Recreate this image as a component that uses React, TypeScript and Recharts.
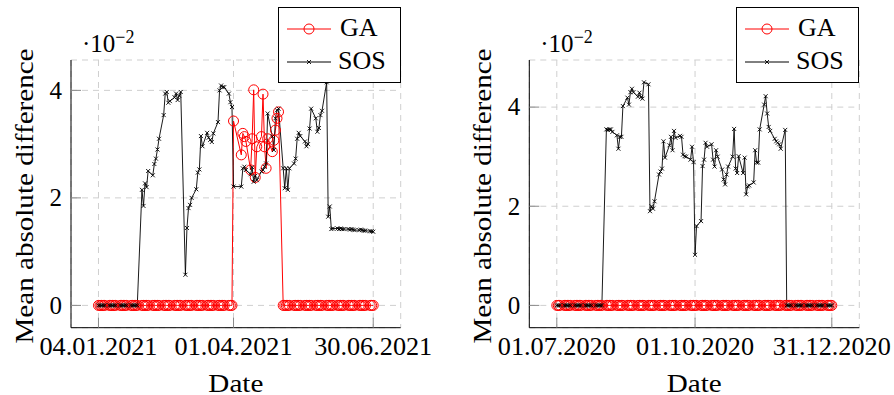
import React from 'react';
import { LineChart, Line, XAxis, YAxis, CartesianGrid, Legend, Label } from 'recharts';

const FONT = 'Liberation Serif';
const TS: React.CSSProperties = { fontFamily: "'Liberation Serif', 'Times New Roman', Times, serif" };

// ---------- calendars (business days) ----------
const leftStart = '04.01.2021';
const leftEnd = '30.06.2021';
const leftHolidays = ['02.04.2021', '05.04.2021'];
const leftTickLabels = ['04.01.2021', '01.04.2021', '30.06.2021'];

const rightStart = '01.07.2020';
const rightEnd = '31.12.2020';
const rightHolidays: string[] = [];
const rightTickLabels = ['01.07.2020', '01.10.2020', '31.12.2020'];

const yTicks = [0, 2, 4];

// ---------- series (values in units of 1e-2), one per business day ----------
const sosLeft = [
  0, 0, 0, 0, 0, 0, 0, 0, 0, 0, 0, 0, 0, 0, 0, 0, 0, 0, 0, 0,
  2.15, 1.85, 2.27, 2.2, 2.5,
  2.42, 2.63, 2.73, 2.9, 3.1,
  3.54, 3.94, 3.97, 3.77, 3.8,
  3.87, 3.94, 3.82, 3.9, 3.97,
  0.57, 1.44, 1.81, 1.87, 2.0,
  2.16, 2.47, 2.53, 3.15, 2.96,
  3.21, 3.12, 3.08, 3.04, 3.2,
  3.41, 4.0, 4.09, 4.06, 4.06,
  3.94, 3.78, 3.69, 2.21,
  2.21, 2.55, 2.58, 2.52,
  2.44, 2.57, 2.3, 2.41, 2.33,
  2.49, 2.52, 2.58, 2.64, 3.57,
  3.14, 2.89, 3.48, 3.63, 3.66,
  2.55, 2.18, 2.55, 2.15, 2.55,
  2.64, 2.73, 3.1, 3.21, 3.15,
  3.05, 2.96, 3.0, 3.29, 3.66,
  3.48, 3.23, 3.3, 3.54, 3.62,
  4.15, 1.65, 1.84, 1.42, 1.43,
  1.43, 1.42, 1.43, 1.42, 1.42,
  1.42, 1.41, 1.42, 1.41, 1.4,
  1.4, 1.41, 1.4, 1.39, 1.39,
  1.38, 1.38, 1.37,
];

const gaLeft = [
  0, 0, 0, 0, 0, 0, 0, 0, 0, 0, 0, 0, 0, 0, 0, 0, 0, 0, 0, 0,
  0, 0, 0, 0, 0, 0, 0, 0, 0, 0, 0, 0, 0, 0, 0, 0, 0, 0, 0, 0,
  0, 0, 0, 0, 0, 0, 0, 0, 0, 0, 0, 0, 0, 0, 0, 0, 0, 0, 0, 0,
  0, 0, 0, 3.43,
  2.8, 3.2, 3.14, 3.05,
  2.52, 3.1, 4.01, 2.38, 2.95,
  3.14, 3.93, 2.95, 2.55, 3.1,
  2.86, 3.07, 3.26, 3.48, 3.6,
  0, 0, 0, 0, 0, 0, 0, 0, 0, 0, 0, 0, 0, 0, 0, 0, 0, 0, 0, 0,
  0, 0, 0, 0, 0, 0, 0, 0, 0, 0, 0, 0, 0, 0, 0, 0, 0, 0, 0, 0,
  0, 0, 0,
];

const sosRight = [
  0, 0, 0,
  0, 0, 0, 0, 0, 0, 0, 0, 0, 0, 0, 0, 0, 0, 0, 0, 0, 0, 0, 0,
  3.55, 3.54, 3.55, 3.55, 3.5,
  3.43, 3.16, 3.4, 3.4, 4.02,
  4.19, 4.05, 4.3, 4.37, 4.3,
  4.21, 4.29, 4.2, 4.17, 4.5,
  4.46, 1.9, 2.0, 1.95, 2.1,
  2.64, 2.7, 2.76, 3.31, 2.98,
  3.23, 3.4, 3.13, 3.52, 3.38,
  3.42, 3.4, 3.04, 3.01, 3.0,
  2.94, 3.2, 2.89, 1.02, 1.6,
  1.7, 2.81, 2.94, 3.28, 3.2,
  3.25, 2.94, 2.8, 3.13, 3.0,
  2.74, 2.54, 2.44, 2.64, 2.8,
  3.0, 3.56, 2.76, 2.67, 3.01,
  2.67, 2.98, 2.24, 2.4, 2.42,
  2.48, 3.13, 2.88, 2.88, 3.55,
  4.05, 4.22, 3.87, 3.6, 3.52,
  3.36, 3.31, 3.28, 3.25, 3.16,
  3.54, 0, 0, 0, 0,
  0, 0, 0, 0, 0, 0, 0, 0, 0, 0, 0, 0, 0, 0, 0,
  0, 0, 0, 0,
];

const gaRight = [
  0, 0, 0,
  0, 0, 0, 0, 0, 0, 0, 0, 0, 0, 0, 0, 0, 0, 0, 0, 0, 0, 0, 0,
  0, 0, 0, 0, 0, 0, 0, 0, 0, 0, 0, 0, 0, 0, 0, 0, 0, 0, 0, 0,
  0, 0, 0, 0, 0, 0, 0, 0, 0, 0, 0, 0, 0, 0, 0, 0, 0, 0, 0, 0,
  0, 0, 0, 0, 0, 0, 0, 0, 0, 0, 0, 0, 0, 0, 0, 0, 0, 0, 0, 0,
  0, 0, 0, 0, 0, 0, 0, 0, 0, 0, 0, 0, 0, 0, 0, 0, 0, 0, 0, 0,
  0, 0, 0, 0, 0, 0, 0, 0, 0, 0, 0, 0, 0, 0, 0, 0, 0, 0, 0, 0,
  0, 0, 0, 0, 0, 0, 0, 0, 0,
];

// ---------- helpers ----------
const DAY = 86400000;
function parseDate(s: string) {
  const [dd, mm, yy] = s.split('.').map(Number);
  return Date.UTC(yy, mm - 1, dd);
}
function businessDays(start: string, end: string, skip: string[]) {
  const s = parseDate(start);
  const e = parseDate(end);
  const skipT = skip.map(parseDate);
  const out: number[] = [];
  for (let t = s; t <= e; t += DAY) {
    const wd = new Date(t).getUTCDay();
    if (wd === 0 || wd === 6) continue;
    if (skipT.includes(t)) continue;
    out.push(Math.round((t - s) / DAY));
  }
  return out;
}
function buildRows(start: string, end: string, skip: string[], ga: number[], sos: number[]) {
  const days = businessDays(start, end, skip);
  return days.map((d, i) => ({ d, ga: ga[i], sos: sos[i] }));
}

const leftRows = buildRows(leftStart, leftEnd, leftHolidays, gaLeft, sosLeft);
const rightRows = buildRows(rightStart, rightEnd, rightHolidays, gaRight, sosRight);

const Cross = (props: any) => {
  const { cx, cy, index } = props;
  if (cx == null || cy == null) return <g key={`c${index}`} />;
  const s = 2;
  return (
    <path
      key={`c${index}`}
      d={`M${cx - s},${cy - s}L${cx + s},${cy + s}M${cx - s},${cy + s}L${cx + s},${cy - s}`}
      stroke="#000"
      strokeWidth={0.9}
      fill="none"
    />
  );
};

const LegendBox = () => (
  <svg width={123} height={76} style={{ display: 'block' }}>
    <rect x={0.5} y={0.5} width={122} height={75} fill="#fff" stroke="#000" strokeWidth={1} />
    <line x1={9} x2={53} y1={22} y2={22} stroke="#ff0000" strokeWidth={1} />
    <circle cx={31} cy={22} r={5} fill="none" stroke="#ff0000" strokeWidth={1} />
    <text x={62} y={29} fontSize={26} style={TS} fill="#000">GA</text>
    <line x1={9} x2={53} y1={55} y2={55} stroke="#000" strokeWidth={1} />
    <path d="M29,53L33,57M29,57L33,53" stroke="#000" strokeWidth={0.9} />
    <text x={60} y={62} fontSize={26} style={TS} fill="#000">SOS</text>
  </svg>
);

type PanelProps = {
  rows: { d: number; ga: number; sos: number }[];
  start: string;
  tickLabels: string[];
  originX: number;
  plotL: number;
  plotR: number;
};

function Panel({ rows, start, tickLabels, originX, plotL, plotR }: PanelProps) {
  const W = 447;
  const H = 395;
  const top = 60;
  const bottom = 327.7;
  const yAxisW = 40;
  const xAxisH = 30;
  const pl = plotL - originX;
  const pr = plotR - originX;
  const margin = { top, left: pl - yAxisW, right: W - pr, bottom: H - bottom - xAxisH };

  const s = parseDate(start);
  const xTicks = tickLabels.map((l) => Math.round((parseDate(l) - s) / DAY));
  const dMin = rows[0].d;
  const dMax = rows[rows.length - 1].d;
  const xr = dMax - dMin;
  const xDomain = [dMin - 0.1 * xr, dMax + 0.1 * xr];
  let yMax = 0;
  rows.forEach((r) => {
    yMax = Math.max(yMax, r.ga, r.sos);
  });
  const yDomain = [-0.1 * yMax, 1.1 * yMax];

  const tickColor = '#8a8a8a';
  const BottomTick = (p: any) => {
    const label = tickLabels[xTicks.indexOf(p.payload.value)];
    return (
      <g>
        <line x1={p.x} x2={p.x} y1={p.y} y2={p.y - 10} stroke={tickColor} strokeWidth={1} />
        <text
          x={p.x}
          y={p.y + 27.3}
          textAnchor="middle"
          fontSize={25}
          style={TS}
          fill="#000"
          textLength={118}
          lengthAdjust="spacingAndGlyphs"
        >
          {label}
        </text>
      </g>
    );
  };
  const TopTick = (p: any) => (
    <line x1={p.x} x2={p.x} y1={p.y} y2={p.y + 10} stroke={tickColor} strokeWidth={1} />
  );
  const LeftTick = (p: any) => (
    <g>
      <line x1={p.x} x2={p.x + 10} y1={p.y} y2={p.y} stroke={tickColor} strokeWidth={1} />
      <text x={p.x - 9} y={p.y + 8.3} textAnchor="end" fontSize={25} style={TS} fill="#000">
        {p.payload.value}
      </text>
    </g>
  );
  const RightTick = (p: any) => (
    <line x1={p.x - 10} x2={p.x} y1={p.y} y2={p.y} stroke={tickColor} strokeWidth={1} />
  );

  const yLabelContent = () => {
    const cx = pl - 38;
    const cy = 196;
    return (
      <g>
        <text
          x={cx}
          y={cy}
          transform={`rotate(-90, ${cx}, ${cy})`}
          textAnchor="middle"
          fontSize={25}
          style={TS}
          fill="#000"
          textLength={295}
          lengthAdjust="spacingAndGlyphs"
        >
          Mean absolute difference
        </text>
        <text x={pl + 11} y={52} fontSize={25} style={TS} fill="#000">
          ·10
          <tspan dy={-9} fontSize={18}>
            −2
          </tspan>
        </text>
      </g>
    );
  };

  const xLabelContent = () => (
    <text
      x={(pl + pr) / 2}
      y={391.5}
      textAnchor="middle"
      fontSize={25}
      style={TS}
      fill="#000"
      textLength={55}
      lengthAdjust="spacingAndGlyphs"
    >
      Date
    </text>
  );

  return (
    <div style={{ position: 'absolute', left: originX, top: 0, width: W, height: H }}>
      <LineChart width={W} height={H} data={rows} margin={margin} style={TS}>
        <CartesianGrid stroke="#cfcfcf" strokeDasharray="6 5" strokeWidth={1} />
        <XAxis
          xAxisId={0}
          type="number"
          dataKey="d"
          domain={xDomain}
          allowDataOverflow
          ticks={xTicks}
          interval={0}
          height={xAxisH}
          tickSize={0}
          tickMargin={0}
          tickLine={false}
          axisLine={{ stroke: '#000', strokeWidth: 1 }}
          tick={BottomTick}
        >
          <Label content={xLabelContent} />
        </XAxis>
        <XAxis
          xAxisId="top"
          orientation="top"
          type="number"
          dataKey="d"
          domain={xDomain}
          allowDataOverflow
          ticks={xTicks}
          interval={0}
          height={0}
          tickSize={0}
          tickMargin={0}
          tickLine={false}
          axisLine={{ stroke: '#000', strokeWidth: 1 }}
          tick={TopTick}
        />
        <YAxis
          yAxisId={0}
          type="number"
          domain={yDomain}
          allowDataOverflow
          ticks={yTicks}
          interval={0}
          width={yAxisW}
          tickSize={0}
          tickMargin={0}
          tickLine={false}
          axisLine={{ stroke: '#000', strokeWidth: 1 }}
          tick={LeftTick}
        >
          <Label content={yLabelContent} />
        </YAxis>
        <YAxis
          yAxisId="right"
          orientation="right"
          type="number"
          domain={yDomain}
          allowDataOverflow
          ticks={yTicks}
          interval={0}
          width={0}
          tickSize={0}
          tickMargin={0}
          tickLine={false}
          axisLine={{ stroke: '#000', strokeWidth: 1 }}
          tick={RightTick}
        />
        <Line
          type="linear"
          dataKey="ga"
          name="GA"
          stroke="#ff0000"
          strokeWidth={1}
          dot={{ r: 5, stroke: '#ff0000', strokeWidth: 1, fill: 'none' }}
          activeDot={false}
          isAnimationActive={false}
        />
        <Line
          type="linear"
          dataKey="sos"
          name="SOS"
          stroke="#000"
          strokeWidth={0.9}
          dot={Cross}
          activeDot={false}
          isAnimationActive={false}
        />
        <Legend
          layout="horizontal"
          verticalAlign="middle"
          align="center"
          content={LegendBox}
          wrapperStyle={{ position: 'absolute', left: pr - 123, top: 7, width: 123, height: 76 }}
        />
      </LineChart>
    </div>
  );
}

export default function App() {
  return (
    <div
      style={{
        position: 'absolute',
        left: 0,
        top: 0,
        width: 894,
        height: 395,
        background: '#fff',
        overflow: 'hidden',
      }}
    >
      <Panel
        rows={leftRows}
        start={leftStart}
        tickLabels={leftTickLabels}
        originX={0}
        plotL={71}
        plotR={400.7}
      />
      <Panel
        rows={rightRows}
        start={rightStart}
        tickLabels={rightTickLabels}
        originX={447}
        plotL={529.3}
        plotR={859.3}
      />
    </div>
  );
}
